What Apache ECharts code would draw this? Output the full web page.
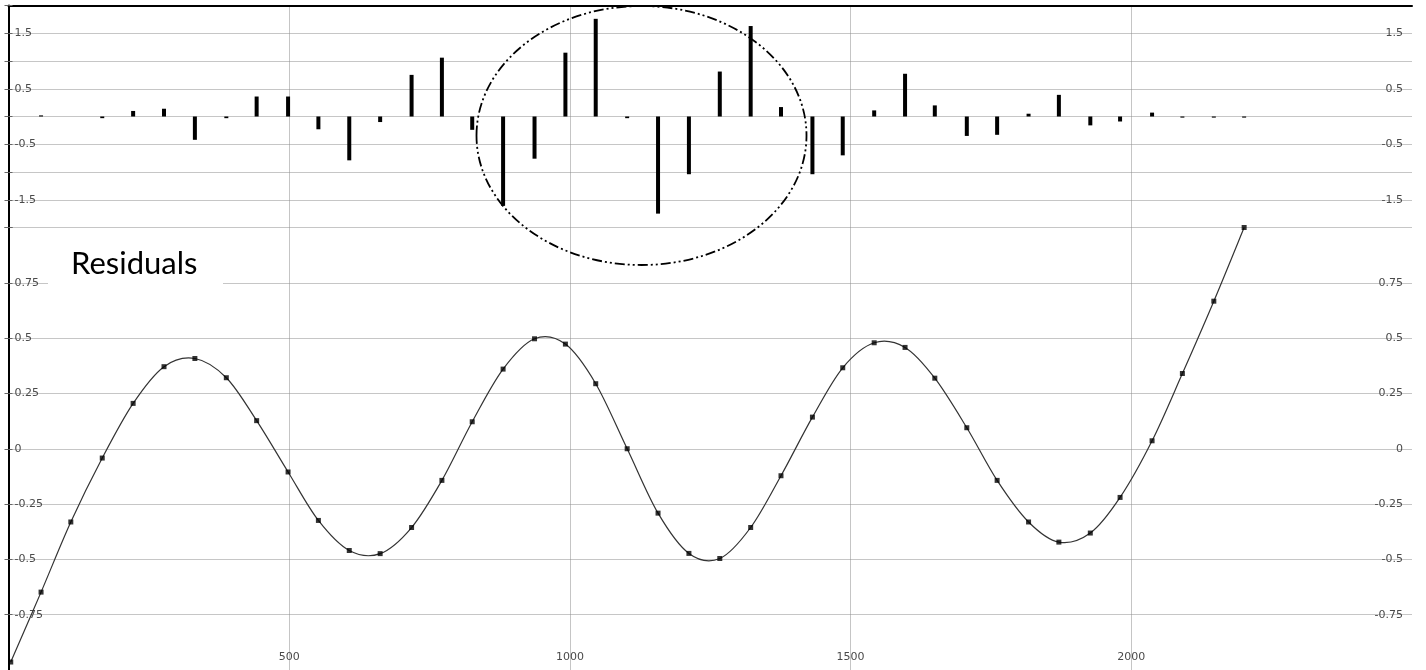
<!DOCTYPE html>
<html>
<head>
<meta charset="utf-8">
<script src="https://cdn.jsdelivr.net/npm/echarts@6/dist/echarts.min.js"></script>
<style>
  html, body { margin: 0; padding: 0; background: #fff; }
  #chart { width: 1426px; height: 670px; }
</style>
</head>
<body>
<div id="chart"></div>
<script>
// Sample positions along the x axis
const xPos = [4, 58, 111, 167, 222, 277, 332, 388, 442, 498, 552, 607, 662, 718, 772, 826,
  881, 937, 992, 1046, 1102, 1157, 1212, 1267, 1322, 1376, 1432, 1486, 1542, 1597, 1650,
  1707, 1761, 1817, 1871, 1927, 1980, 2037, 2091, 2147, 2201];

// Residual at each sample (upper panel bars)
const residuals = [0, 0.02, 0, -0.03, 0.10, 0.14, -0.42, -0.03, 0.36, 0.36, -0.23, -0.79,
  -0.10, 0.75, 1.06, -0.24, -1.61, -0.76, 1.15, 1.76, -0.03, -1.75, -1.04, 0.81, 1.63,
  0.17, -1.04, -0.70, 0.11, 0.77, 0.20, -0.35, -0.33, 0.05, 0.39, -0.16, -0.09, 0.07,
  -0.02, -0.02, -0.02];

// Measured signal at each sample (lower panel points)
const signal = [-0.964, -0.648, -0.331, -0.042, 0.205, 0.371, 0.408, 0.321, 0.127, -0.105,
  -0.324, -0.460, -0.474, -0.356, -0.143, 0.122, 0.360, 0.497, 0.473, 0.294, 0.000,
  -0.291, -0.473, -0.496, -0.356, -0.122, 0.143, 0.366, 0.479, 0.458, 0.319, 0.095,
  -0.143, -0.331, -0.422, -0.381, -0.220, 0.036, 0.340, 0.667, 1.000];

// Tick values
const xTicks = [500, 1000, 1500, 2000];
const residualTicks = [1.5, 0.5, -0.5, -1.5];
const signalTicks = [0.75, 0.5, 0.25, 0, -0.25, -0.5, -0.75];

const labelText = 'Residuals';

const gridColor = '#8c8c8c';
const labelColor = '#4a4a4a';
const labelFont = { fontFamily: 'DejaVu Sans, Verdana, sans-serif', fontSize: 11, color: labelColor };

const dotted = { color: gridColor, type: 'dotted', width: 1 };

function tickFormatter(list) {
  return function (v) {
    for (const t of list) { if (Math.abs(t - v) < 1e-6) return String(t); }
    return '';
  };
}

const signalPoints = xPos.map((x, i) => [x, signal[i]]);

// Smooth fitted curve: one Catmull-Rom segment from each sample to the next
function renderFitSegment(params, api) {
  const i = params.dataIndex;
  const n = signalPoints.length;
  if (i >= n - 1) return null;
  const p0 = api.coord(signalPoints[Math.max(i - 1, 0)]);
  const p1 = api.coord(signalPoints[i]);
  const p2 = api.coord(signalPoints[i + 1]);
  const p3 = api.coord(signalPoints[Math.min(i + 2, n - 1)]);
  return {
    type: 'bezierCurve',
    shape: {
      x1: p1[0], y1: p1[1],
      cpx1: p1[0] + (p2[0] - p0[0]) / 6, cpy1: p1[1] + (p2[1] - p0[1]) / 6,
      cpx2: p2[0] - (p3[0] - p1[0]) / 6, cpy2: p2[1] - (p3[1] - p1[1]) / 6,
      x2: p2[0], y2: p2[1]
    },
    style: { fill: null, stroke: '#333', lineWidth: 1.2 }
  };
}

const chart = echarts.init(document.getElementById('chart'), null, { renderer: 'canvas' });

const gridLeft = 8.5;
const gridWidth = 1403.5;

chart.setOption({
  animation: false,
  backgroundColor: '#fff',
  grid: [
    { left: gridLeft, width: gridWidth, top: 5.5, height: 222 },
    { left: gridLeft, width: gridWidth, top: 227.5, height: 442.8 }
  ],
  xAxis: [
    {
      gridIndex: 0, type: 'value', min: 0, max: 2500, interval: 500, position: 'top',
      axisLine: { show: true, onZero: false, lineStyle: { color: '#000', width: 2 } },
      axisTick: { show: false }, axisLabel: { show: false },
      splitLine: { show: true, showMinLine: false, showMaxLine: false, lineStyle: dotted }
    },
    {
      gridIndex: 1, type: 'value', min: 0, max: 2500, interval: 500, position: 'bottom',
      axisLine: { show: false }, axisTick: { show: false },
      axisLabel: Object.assign({ inside: true, margin: 7, showMinLabel: false, showMaxLabel: false,
        formatter: tickFormatter(xTicks) }, labelFont),
      splitLine: { show: true, showMinLine: false, showMaxLine: false, lineStyle: dotted }
    }
  ],
  yAxis: [
    {
      gridIndex: 0, type: 'value', min: -2, max: 2, interval: 0.5, position: 'left',
      axisLine: { show: true, onZero: false, lineStyle: { color: '#000', width: 2 } },
      axisTick: { show: true, inside: true, length: 4, lineStyle: { color: '#666' } },
      axisLabel: Object.assign({ inside: true, margin: 6, formatter: tickFormatter(residualTicks) }, labelFont),
      splitLine: { show: true, showMinLine: true, showMaxLine: false, lineStyle: dotted }
    },
    {
      gridIndex: 0, type: 'value', min: -2, max: 2, interval: 0.5, position: 'right',
      axisLine: { show: false },
      axisTick: { show: true, inside: true, length: 4, lineStyle: { color: '#666' } },
      axisLabel: Object.assign({ inside: true, margin: 9, formatter: tickFormatter(residualTicks) }, labelFont),
      splitLine: { show: false }
    },
    {
      gridIndex: 1, type: 'value', min: -1, max: 1, interval: 0.25, position: 'left',
      axisLine: { show: true, onZero: false, lineStyle: { color: '#000', width: 2 } },
      axisTick: { show: true, inside: true, length: 4, lineStyle: { color: '#666' } },
      axisLabel: Object.assign({ inside: true, margin: 6, formatter: tickFormatter(signalTicks) }, labelFont),
      splitLine: { show: true, showMinLine: false, showMaxLine: false, lineStyle: dotted }
    },
    {
      gridIndex: 1, type: 'value', min: -1, max: 1, interval: 0.25, position: 'right',
      axisLine: { show: false },
      axisTick: { show: true, inside: true, length: 4, lineStyle: { color: '#666' } },
      axisLabel: Object.assign({ inside: true, margin: 9, formatter: tickFormatter(signalTicks) }, labelFont),
      splitLine: { show: false }
    }
  ],
  series: [
    {
      name: 'residual', type: 'bar', xAxisIndex: 0, yAxisIndex: 0,
      barWidth: 4,
      itemStyle: { color: '#000' },
      data: xPos.map((x, i) => [x, residuals[i]])
    },
    {
      name: 'fit', type: 'custom', xAxisIndex: 1, yAxisIndex: 2,
      clip: false,
      renderItem: renderFitSegment,
      data: signalPoints,
      z: 2
    },
    {
      name: 'signal', type: 'scatter', xAxisIndex: 1, yAxisIndex: 2,
      clip: false,
      symbol: 'rect', symbolSize: 5,
      itemStyle: { color: '#000' },
      z: 3,
      data: signalPoints
    }
  ],
  graphic: [
    {
      type: 'rect', z: 50,
      shape: { x: 48, y: 238, width: 175, height: 48 },
      style: { fill: '#fff' }
    },
    {
      type: 'text', z: 51, x: 71, y: 264,
      style: {
        text: labelText, fill: '#000',
        font: '31px Lato, "Open Sans", sans-serif',
        verticalAlign: 'middle', align: 'left'
      }
    },
    {
      type: 'ellipse', z: 60,
      shape: { cx: 641.5, cy: 135.5, rx: 165, ry: 129.5 },
      style: { fill: null, stroke: '#000', lineWidth: 1.8, lineDash: [10, 3, 2, 3, 2, 3] }
    }
  ]
});
</script>
</body>
</html>
